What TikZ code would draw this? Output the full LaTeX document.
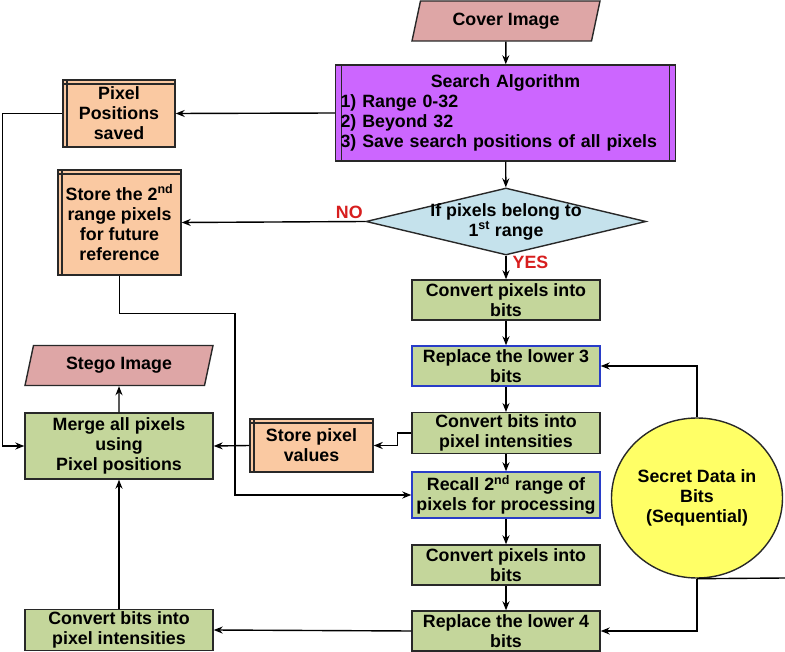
\documentclass[tikz,border=0pt]{standalone}
\usepackage{fontspec}
\setmainfont{Liberation Sans}
\usetikzlibrary{shapes.geometric,arrows.meta}

\definecolor{searchpurple}{RGB}{204,102,255}
\definecolor{storeorange}{RGB}{250,201,162}
\definecolor{stepgreen}{RGB}{196,214,155}
\definecolor{testblue}{RGB}{197,226,236}
\definecolor{secretyellow}{RGB}{255,255,102}
\definecolor{imagepink}{RGB}{222,166,166}
\definecolor{boxline}{RGB}{40,40,40}
\definecolor{blueline}{RGB}{40,60,200}
\definecolor{answerred}{RGB}{215,30,30}

\begin{document}
\begin{tikzpicture}[x=1pt,y=-1pt,line width=1.4pt,>={Stealth[length=9pt,width=7pt]}]
    \tikzstyle{every node}=[font=\bfseries\fontsize{17.8}{20}\selectfont, align=center]
    \tikzstyle{block}=[rectangle, draw=boxline, fill=stepgreen, minimum width=188, minimum height=40, inner sep=2pt]
    \tikzstyle{blue block}=[block, draw=blueline]
    \tikzstyle{store}=[rectangle, draw=boxline, fill=storeorange, inner sep=2pt,
        path picture={\draw[boxline] ([xshift=4pt]path picture bounding box.north west) -- ([xshift=4pt]path picture bounding box.south west);
                      \draw[boxline] ([yshift=-4pt]path picture bounding box.north west) -- ([yshift=-4pt]path picture bounding box.north east);}]
    \tikzstyle{process}=[rectangle, draw=boxline, fill=searchpurple, inner sep=5pt,
        path picture={\draw[boxline] ([xshift=6pt]path picture bounding box.north west) -- ([xshift=6pt]path picture bounding box.south west);
                      \draw[boxline] ([xshift=-6pt]path picture bounding box.north east) -- ([xshift=-6pt]path picture bounding box.south east);}]
    \tikzstyle{io}=[trapezium, trapezium left angle=65, trapezium right angle=115, trapezium stretches body,
        draw=boxline, fill=imagepink, minimum width=188, minimum height=40, inner sep=1pt]
    \tikzstyle{decision}=[diamond, draw=boxline, fill=testblue, minimum width=280, minimum height=67, inner sep=0pt]
    \tikzstyle{answer}=[text=answerred, inner sep=2pt]

    \useasboundingbox (0,0) rectangle (785,652);

% Nodes
    % Main column
    \node[io] (cover) at (506,21) {Cover Image};
    \node[process, text width=330, align=left, minimum height=96] (search) at (505.5,113)
        {\makebox[330pt]{Search Algorithm}\\1) Range 0-32\\2) Beyond 32\\3) Save search positions of all pixels};
    \node[decision, label={[align=center]center:If pixels belong to\\1\textsuperscript{st} range}] (test) at (506,221.5) {};
    \node[block] (conv1) at (506,300) {Convert pixels into\\bits};
    \node[blue block] (rep3) at (506,366) {Replace the lower 3\\bits};
    \node[block] (conv2) at (506,433) {Convert bits into\\pixel intensities};
    \node[blue block, minimum height=46] (recall) at (506,495) {Recall 2\textsuperscript{nd} range of\\pixels for processing};
    \node[block] (conv3) at (506,565) {Convert pixels into\\bits};
    \node[block] (rep4) at (506,631) {Replace the lower 4\\bits};

    % Secret data
    \node[ellipse, draw=boxline, fill=secretyellow, minimum width=171, minimum height=160, inner sep=0pt] (secret) at (697,498)
        {Secret Data in\\Bits\\(Sequential)};
    \coordinate (secret end) at (785,578);

    % Left side
    \node[store, minimum width=112, minimum height=67] (ppos) at (119,113.5) {Pixel\\Positions\\saved};
    \node[store, minimum width=123, minimum height=105] (range2) at (119.5,222.5) {Store the 2\textsuperscript{nd}\\range pixels\\for future\\reference};
    \node[io] (stego) at (119,365.5) {Stego Image};
    \node[block, minimum height=66] (merge) at (119,446) {Merge all pixels\\using\\Pixel positions};
    \node[store, minimum width=123, minimum height=53] (pxval) at (311.5,445.5) {Store pixel\\values};
    \node[block] (conv4) at (119,630) {Convert bits into\\pixel intensities};

% Paths
    \draw[->] (cover) -- (search);
    \draw[->] (search.west) -- (ppos.east);
    \draw[->] (search) -- (test);
    \draw[->] (test.west) -- node[answer, above left, pos=0] {NO} (range2.east);
    \draw[->] (test.south) -- node[answer, right, pos=0.3, xshift=4pt] {YES} (conv1.north);

    % Main chain
    \foreach \source/\dest in {conv1/rep3, rep3/conv2, conv2/recall, recall/conv3, conv3/rep4}
        \draw[->] (\source) -- (\dest);

    % Secret data into the replace steps
    \draw[->] (secret.north) |- (rep3.east);
    \draw[->] (secret.south) |- (rep4.east);
    \draw (secret.south) -- (secret end);

    % Merging
    \draw[->] (ppos.west) -- ++(-60,0) |- (merge.west);
    \draw[->] (range2.south) -- ++(0,38) -- ++(115.5,0) |- (recall.west);
    \draw[->] (conv2.west) -- ++(-14,0) |- (pxval.east);
    \draw[->] (pxval.west) -- (merge.east);
    \draw[->] (rep4.west) -- (conv4.east);
    \draw[->] (conv4) -- (merge);
    \draw[->] (merge) -- (stego);

\end{tikzpicture}
\end{document}
